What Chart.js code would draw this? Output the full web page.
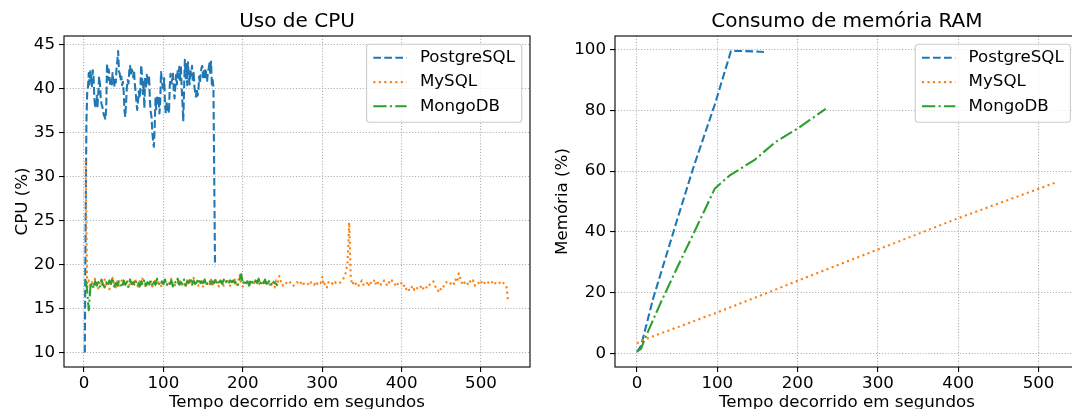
<!DOCTYPE html>
<html><head><meta charset="utf-8">
<script src="https://cdn.jsdelivr.net/npm/chart.js@4.4.1/dist/chart.umd.min.js"></script>
<style>
html,body{margin:0;padding:0;background:#fff;overflow:hidden;width:1072px;height:409px;position:relative;}
#c1{position:absolute;left:0;top:0;width:540px;height:409px;}
#c2{position:absolute;left:540px;top:0;width:540px;height:409px;}
</style></head><body>
<canvas id="c1" width="540" height="409"></canvas>
<canvas id="c2" width="540" height="409"></canvas>
<script>
// ---------- DATA ----------
const SERIES = ['PostgreSQL', 'MySQL', 'MongoDB'];

// CPU usage (%), sampled at fixed intervals
const PG_CPU_T0 = 1, PG_CPU_DT = 1;
const PG_CPU = [
 10.0,24.0,36.0,39.5,40.2,41.8,40.5,42.0,41.2,40.3,
 42.1,41.5,39.0,37.8,38.5,39.2,38.0,39.5,41.4,40.6,
 39.0,38.3,38.0,37.5,37.0,36.8,36.5,37.8,42.9,41.0,
 42.2,41.6,40.4,41.0,40.5,41.8,40.9,40.2,41.3,40.7,
 42.4,43.2,44.3,42.0,41.7,40.9,41.4,40.4,40.8,39.6,
 37.5,36.8,38.4,40.2,41.0,40.6,42.0,42.6,41.5,42.2,
 42.0,41.3,42.1,40.5,39.6,38.5,37.6,38.6,39.7,38.9,
 40.1,42.7,41.6,39.4,40.8,37.8,41.3,40.0,41.6,41.0,
 40.5,41.5,38.6,37.4,36.8,35.2,34.0,33.4,35.6,38.9,
 37.7,39.0,38.4,39.1,37.2,38.5,41.9,41.0,40.3,40.0,
 41.2,38.2,37.2,38.6,37.4,37.9,37.2,40.3,41.7,40.6,
 41.1,41.7,39.9,38.9,40.2,41.6,40.5,42.1,41.2,42.5,
 41.0,42.6,40.2,38.4,36.3,39.8,43.3,41.2,42.8,40.4,
 43.0,41.3,40.5,42.2,41.5,42.6,40.8,42.0,40.3,39.5,
 39.1,40.0,39.2,39.6,41.4,40.6,41.8,42.4,42.6,41.3,
 42.0,41.1,42.3,41.6,40.8,41.9,42.3,42.9,41.8,43.1,
 40.5,41.0,40.2,30.0,19.8
];

const MY_CPU_T0 = 2, MY_CPU_DT = 2;
const MY_CPU = [
 31.8,17.4,18.2,17.6,18.0,17.5,18.4,17.7,17.3,18.1,
 17.8,17.4,18.3,17.6,17.9,17.2,18.0,18.5,17.7,17.4,
 18.1,17.6,17.9,18.3,17.5,17.8,18.2,17.3,17.9,18.0,
 17.6,18.4,17.8,17.5,18.1,17.7,18.6,17.9,17.4,18.0,
 17.7,18.2,17.5,17.9,18.3,17.6,18.0,17.8,17.4,18.2,
 17.9,17.6,18.1,17.8,18.4,17.7,17.5,18.0,17.9,18.3,
 17.6,18.0,17.8,17.4,18.2,17.9,18.1,17.7,18.5,17.8,
 17.9,17.6,18.1,18.0,17.5,18.2,17.8,17.9,17.6,18.3,
 17.7,18.0,18.2,17.8,17.5,18.1,17.9,17.6,18.0,18.4,
 17.8,17.6,18.1,17.9,18.3,17.7,18.0,18.8,17.8,17.5,
 18.0,17.7,18.2,17.9,17.6,18.1,17.8,18.3,17.9,17.7,
 18.0,17.8,18.2,17.6,17.9,18.1,17.7,18.0,17.8,17.4,
 18.2,17.9,18.7,18.1,17.6,17.9,18.0,17.7,17.8,18.0,
 17.9,17.6,17.8,18.0,17.9,17.7,18.1,17.8,17.9,18.0,
 17.8,17.6,18.0,17.9,17.7,18.1,17.8,18.0,17.9,18.6,
 17.6,17.9,17.4,18.0,17.8,17.9,17.7,18.0,17.8,17.9,
 17.9,18.1,18.3,18.6,19.2,20.3,24.8,18.4,17.7,18.1,
 17.8,18.0,17.6,17.9,18.2,17.7,17.9,18.0,17.5,18.1,
 17.8,17.9,18.3,17.6,17.9,18.1,17.7,17.8,18.2,17.9,
 17.6,18.0,17.8,18.2,17.9,17.7,18.0,17.6,17.8,17.9,
 17.5,17.7,17.2,17.4,17.0,17.3,17.6,17.1,17.4,17.3,
 17.2,17.5,17.1,17.4,17.6,17.3,17.5,17.8,17.9,18.1,
 17.6,17.2,17.0,17.4,17.1,17.3,17.8,18.0,17.9,17.7,
 17.9,18.1,17.8,18.3,18.0,19.0,18.4,17.9,18.2,17.8,
 18.0,17.7,18.1,17.9,18.2,17.6,17.9,18.0,17.8,18.1,
 17.7,17.9,18.0,17.8,18.1,17.9,18.0,17.7,17.9,17.8,
 18.0,17.9,17.7,17.9,17.8,17.6,15.8
];

const MG_CPU_T0 = 2, MG_CPU_DT = 2;
const MG_CPU = [
 18.2,17.0,14.8,17.4,17.9,17.3,18.1,17.6,18.0,17.5,
 18.3,17.7,17.4,18.0,17.6,18.2,17.8,18.5,17.5,17.9,
 17.6,18.1,17.8,17.4,18.2,17.7,18.0,17.5,18.3,17.8,
 18.0,17.6,18.2,17.9,17.5,18.1,17.7,18.3,17.6,18.0,
 17.8,18.2,17.5,18.0,17.7,18.4,17.9,17.6,18.1,17.8,
 18.3,17.6,18.0,17.8,18.2,17.5,18.1,17.9,18.4,17.7,
 18.0,17.8,18.3,17.6,18.1,17.9,18.5,17.7,18.2,17.8,
 18.0,18.4,17.7,18.1,17.9,18.3,17.6,18.0,18.2,17.8,
 18.1,17.9,18.4,17.7,18.0,18.2,17.8,18.3,17.9,18.1,
 17.8,18.2,18.0,18.2,17.9,18.1,17.7,18.3,18.9,17.8,
 18.2,17.9,18.1,17.6,18.3,18.0,17.8,18.2,17.9,18.4,
 17.7,18.1,17.9,18.3,17.8,18.0,18.2,17.7,18.1,17.9,
 17.8,17.6
];

// Memory usage (%)
const PG_MEM_T = [0, 5, 20, 50, 70, 97, 117, 130, 145, 158];
const PG_MEM   = [0.5, 2.5, 18, 44, 61, 82, 99.5, 99.5, 99.4, 99.2];
const MY_MEM_T = [0, 5, 100, 200, 300, 400, 524];
const MY_MEM   = [3.3, 4.2, 13.5, 23.9, 34.2, 44.5, 56.5];
const MG_MEM_T = [0, 5, 10, 30, 55, 75, 97, 115, 147, 172, 200, 235];
const MG_MEM   = [0.7, 1.5, 5, 17, 31, 42, 54.3, 58.5, 63.8, 69.5, 74, 80.5];

const X_TICK_STEP = 100;
const CPU_TICK_STEP = 5;
const MEM_TICK_STEP = 20;

// ---------- STYLE ----------
const FS = 16.67;
const FONT = 'DejaVu Sans';
const LW = 2.08;
const COLORS = ['#1f77b4', '#ff7f0e', '#2ca02c'];
const DASHES = [[7.7, 3.3], [2.1, 3.4], [13.3, 3.3, 2.1, 3.3]];

Chart.defaults.font.family = FONT;
Chart.defaults.color = '#000';

function series(t0, dt, vals) { return vals.map((v, i) => ({x: t0 + i * dt, y: v})); }
function pairs(ts, vals) { return vals.map((v, i) => ({x: ts[i], y: v})); }

function ds(i, data) {
  return {
    label: SERIES[i], data, borderColor: COLORS[i], backgroundColor: COLORS[i],
    borderWidth: LW, borderDash: DASHES[i], pointRadius: 0, tension: 0, fill: false,
    borderCapStyle: 'butt', borderJoinStyle: 'round', order: 3 - i
  };
}

const frame = {
  id: 'frame',
  afterDatasetsDraw(chart) {
    const {ctx, chartArea: a} = chart;
    ctx.save();
    ctx.strokeStyle = '#000'; ctx.lineWidth = 1.1; ctx.setLineDash([]);
    ctx.strokeRect(a.left, a.top, a.right - a.left, a.bottom - a.top);
    ctx.restore();
  }
};

const mplLegend = {
  id: 'mplLegend',
  afterDraw(chart) {
    const {ctx, chartArea: a} = chart;
    const dss = chart.data.datasets;
    ctx.save();
    ctx.font = FS + 'px "' + FONT + '"';
    const tw = Math.max(...dss.map(d => ctx.measureText(d.label).width));
    const bp = 6.7, hl = 33.3, htp = 13.3;
    const w = bp + hl + htp + tw + bp, h = 78;
    const right = a.right - 8.3, top = a.top + 8.3, left = right - w;
    const r = 3.3;
    ctx.beginPath();
    ctx.moveTo(left + r, top);
    ctx.lineTo(right - r, top); ctx.arcTo(right, top, right, top + r, r);
    ctx.lineTo(right, top + h - r); ctx.arcTo(right, top + h, right - r, top + h, r);
    ctx.lineTo(left + r, top + h); ctx.arcTo(left, top + h, left, top + h - r, r);
    ctx.lineTo(left, top + r); ctx.arcTo(left, top, left + r, top, r);
    ctx.closePath();
    ctx.fillStyle = 'rgba(255,255,255,0.8)'; ctx.fill();
    ctx.strokeStyle = '#cccccc'; ctx.lineWidth = 1.1; ctx.stroke();
    const rows = [13.5, 37.8, 62];
    dss.forEach((d, i) => {
      const y = top + rows[i];
      ctx.beginPath();
      ctx.setLineDash(d.borderDash); ctx.lineDashOffset = 0;
      ctx.strokeStyle = d.borderColor; ctx.lineWidth = LW; ctx.lineCap = 'butt';
      ctx.moveTo(left + bp, y); ctx.lineTo(left + bp + hl, y); ctx.stroke();
      ctx.setLineDash([]);
      ctx.fillStyle = '#000'; ctx.textBaseline = 'middle'; ctx.textAlign = 'left';
      ctx.fillText(d.label, left + bp + hl + htp, y);
    });
    ctx.restore();
  }
};

function axisX(min, max, title) {
  return {
    type: 'linear', position: 'bottom', min, max,
    ticks: {stepSize: X_TICK_STEP, includeBounds: false, padding: 1.5, font: {size: FS}, color: '#000', maxRotation: 0, autoSkip: false},
    grid: {color: '#b0b0b0', lineWidth: 1.1, tickLength: 5, tickColor: '#000', tickWidth: 1.1, tickBorderDash: []},
    border: {display: false, dash: [1.1, 1.8]},
    title: {display: true, text: title, font: {size: FS, lineHeight: 1.2}, color: '#000', padding: {top: 0, bottom: -4}},
    afterFit(s) { s.height = 42; }
  };
}
function axisY(min, max, step, title, width, tpad) {
  return {
    type: 'linear', position: 'left', min, max,
    ticks: {stepSize: step, includeBounds: false, padding: 4, font: {size: FS}, color: '#000', autoSkip: false},
    grid: {color: '#b0b0b0', lineWidth: 1.1, tickLength: 5, tickColor: '#000', tickWidth: 1.1, tickBorderDash: []},
    border: {display: false, dash: [1.1, 1.8]},
    title: {display: true, text: title, font: {size: FS, lineHeight: 1.2}, color: '#000', padding: {top: tpad, bottom: 0}},
    afterFit(s) { s.width = width; }
  };
}
function opts(title, x, y, padRight) {
  return {
    responsive: false, animation: false, devicePixelRatio: 1, events: [],
    layout: {padding: {left: 0, right: padRight, top: 0, bottom: 0}},
    plugins: {
      legend: {display: false}, tooltip: {enabled: false},
      title: {display: true, text: title, fullSize: false, font: {size: 20, weight: 'normal', lineHeight: 1.2}, color: '#000', padding: {top: 9.7, bottom: 2.3}}
    },
    scales: {x, y}
  };
}

new Chart(document.getElementById('c1'), {
  type: 'line',
  data: {datasets: [
    ds(0, series(PG_CPU_T0, PG_CPU_DT, PG_CPU)),
    ds(1, series(MY_CPU_T0, MY_CPU_DT, MY_CPU)),
    ds(2, series(MG_CPU_T0, MG_CPU_DT, MG_CPU))
  ]},
  options: opts('Uso de CPU', axisX(-25.2, 561.7, 'Tempo decorrido em segundos'),
                axisY(8.35, 46.0, CPU_TICK_STEP, 'CPU (%)', 64, 12.3), 10),
  plugins: [frame, mplLegend]
});

new Chart(document.getElementById('c2'), {
  type: 'line',
  data: {datasets: [
    ds(0, pairs(PG_MEM_T, PG_MEM)),
    ds(1, pairs(MY_MEM_T, MY_MEM)),
    ds(2, pairs(MG_MEM_T, MG_MEM))
  ]},
  options: opts('Consumo de memória RAM', axisX(-27.4, 550, 'Tempo decorrido em segundos'),
                axisY(-4.45, 104.45, MEM_TICK_STEP, 'Memória (%)', 75, 12.7), 1.3),
  plugins: [frame, mplLegend]
});
</script></body></html>
